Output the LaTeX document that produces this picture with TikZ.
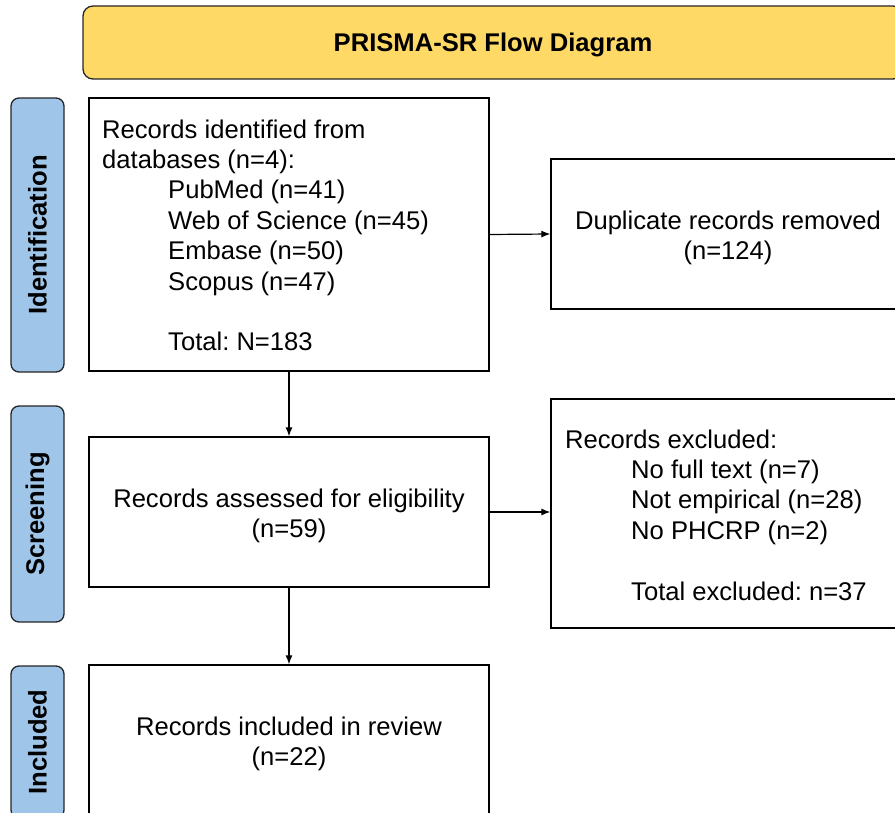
\documentclass[tikz,border=0pt]{standalone}
\usepackage{fontspec}
\setmainfont{Liberation Sans}
\usetikzlibrary{arrows.meta}
\definecolor{hdrfill}{HTML}{FFD966}
\definecolor{sidefill}{HTML}{9FC5E8}
\frenchspacing
\begin{document}
\begin{tikzpicture}[x=1pt,y=-1pt,
  txt/.style={font=\fontsize{25.6}{30.4}\selectfont\frenchspacing, inner sep=0pt},
  box/.style={draw=black, line width=1.3pt, fill=white, inner sep=0pt},
  phase/.style={draw=black!85, line width=1.3pt, fill=sidefill, rounded corners=8pt,
    rotate=90, inner sep=0pt, minimum height=53pt,
    font=\fontsize{25.6}{30.4}\selectfont\bfseries},
  header/.style={draw=black!85, line width=1.3pt, fill=hdrfill, rounded corners=10pt,
    inner sep=0pt},
  flow/.style={-{Latex[length=9pt,width=7pt]}, line width=1.2pt}
]
\useasboundingbox (0,0) rectangle (895,813);

% title banner
\node[header, minimum width=820pt, minimum height=73pt] (title) at (493,42.5) {};
\node[font=\fontsize{25.6}{30}\selectfont\bfseries, inner sep=0pt] (titletxt) at (493,44.5)
  {PRISMA-SR Flow Diagram};

% phase labels on the left
\node[phase, minimum width=274pt] (ident) at (37.5,235) {Identification};
\node[phase, minimum width=216pt] (screen) at (37.5,514) {Screening};
\node[phase, minimum width=152pt] (incl) at (37.5,742) {Included};

% main boxes
\node[box, minimum width=400pt, minimum height=273pt] (found) at (289,234.5) {};
\node[txt, anchor=north west, align=left] (foundtxt) at (102,119.3)
  {Records identified from\\
   databases (n=4):\\
   \hspace*{66pt}PubMed (n=41)\\
   \hspace*{66pt}Web of Science (n=45)\\
   \hspace*{66pt}Embase (n=50)\\
   \hspace*{66pt}Scopus (n=47)\\[30.4pt]
   \hspace*{66pt}Total: N=183};

\node[box, minimum width=354pt, minimum height=150pt] (dup) at (728,234) {};
\node[txt, align=center] (duptxt) at (728,238)
  {Duplicate records removed\\(n=124)};

\node[box, minimum width=400pt, minimum height=150pt] (assess) at (289,512) {};
\node[txt, align=center] (assesstxt) at (289,516)
  {Records assessed for eligibility\\(n=59)};

\node[box, minimum width=354pt, minimum height=229pt] (excl) at (728,513.5) {};
\node[txt, anchor=north west, align=left] (excltxt) at (565,429.3)
  {Records excluded:\\
   \hspace*{66pt}No full text (n=7)\\
   \hspace*{66pt}Not empirical (n=28)\\
   \hspace*{66pt}No PHCRP (n=2)\\[30.4pt]
   \hspace*{66pt}Total excluded: n=37};

\node[box, minimum width=400pt, minimum height=152pt] (kept) at (289,741) {};
\node[txt, align=center] (kepttxt) at (289,744)
  {Records included in review\\(n=22)};

% connectors
\draw[flow] (found.south) -- (assess.north);
\draw[flow] (assess.south) -- (kept.north);
\draw[flow] (found.east) -- (dup.west);
\draw[flow] (assess.east) -- (assess.east -| excl.west);
\end{tikzpicture}
\end{document}
